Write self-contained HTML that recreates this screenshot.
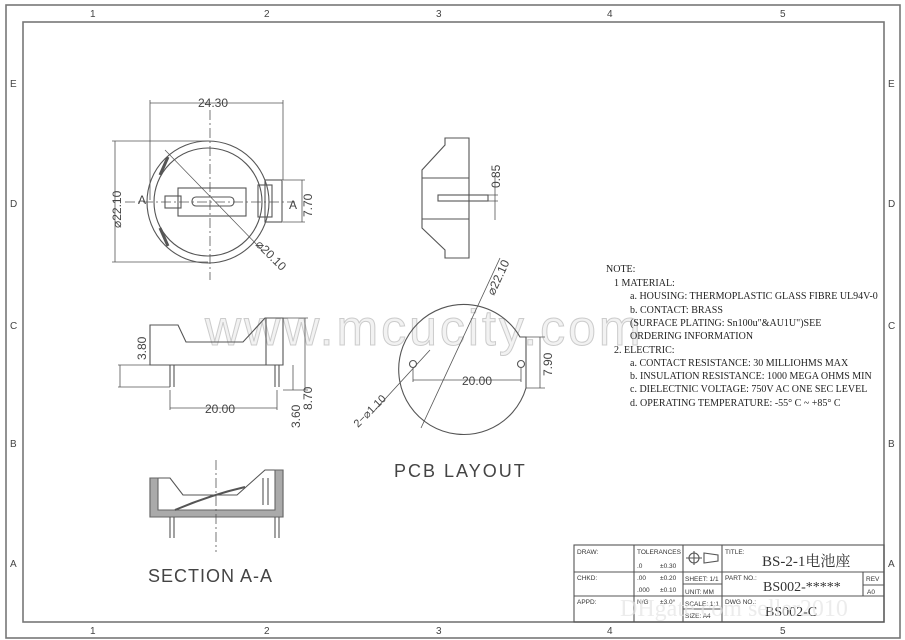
<!DOCTYPE html>
<html><head><meta charset="utf-8"><style>
html,body{margin:0;padding:0;background:#fff;width:905px;height:640px;overflow:hidden}
svg{display:block}
text{font-family:"Liberation Sans","Noto Sans CJK SC",sans-serif}
.s{font-family:"Liberation Serif","Noto Serif CJK SC",serif}
</style></head><body>
<svg width="905" height="640" viewBox="0 0 905 640" xmlns="http://www.w3.org/2000/svg">
<g fill="none" stroke="#777" stroke-width="1.6">
<rect x="6" y="5" width="894" height="633"/>
<rect x="23" y="22" width="861" height="600"/>
</g>
<g font-size="10" fill="#444">
<text x="90" y="17">1</text><text x="264" y="17">2</text><text x="436" y="17">3</text><text x="607" y="17">4</text><text x="780" y="17">5</text>
<text x="90" y="634">1</text><text x="264" y="634">2</text><text x="436" y="634">3</text><text x="607" y="634">4</text><text x="780" y="634">5</text>
<text x="10" y="87">E</text><text x="10" y="207">D</text><text x="10" y="329">C</text><text x="10" y="447">B</text><text x="10" y="567">A</text>
<text x="888" y="87">E</text><text x="888" y="207">D</text><text x="888" y="329">C</text><text x="888" y="447">B</text><text x="888" y="567">A</text>
</g>
<text x="205" y="345" font-size="50" style="fill:#f2f2f2;stroke:#cccccc;stroke-width:1" letter-spacing="3">www.mcucity.com</text>
<g fill="none" stroke="#555" stroke-width="1.1">
<circle cx="208" cy="202" r="61"/>
<circle cx="208" cy="202" r="54"/>
<rect x="265" y="180" width="17" height="42"/>
<rect x="258" y="185" width="14" height="32"/>
<rect x="178" y="188" width="68" height="28"/>
<rect x="165" y="196" width="16" height="12"/>
<rect x="192" y="197" width="42" height="9" rx="4"/>
<path d="M160 175 l8 -18 M160 228 l8 18" stroke-width="3"/>
<line x1="210" y1="110" x2="210" y2="280" stroke-dasharray="10 3 2 3" stroke-width="0.8"/>
<line x1="125" y1="202" x2="295" y2="202" stroke-dasharray="10 3 2 3" stroke-width="0.8"/>
<line x1="165" y1="150" x2="262" y2="250" stroke-width="0.7"/>
<path d="M150 103 H283 M150 100 V200 M283 100 V180 M115 141 V262 M112 141 H208 M112 262 H208 M302 180 V222 M283 180 H305 M283 222 H305" stroke-width="0.8"/>
<path d="M445 138 H469 V258 H445 V250 L422 228 V170 L445 145 Z"/>
<path d="M422 178 H469 M422 219 H469"/>
<rect x="438" y="195" width="50" height="6"/>
<path d="M495 175 V220 M488 195 H498 M488 201 H498" stroke-width="0.8"/>
<path d="M150 325 H178 L186 342 H243 L265 318 H283 V365 H150 Z"/>
<path d="M266 318 V365"/>
<path d="M170 365 V387 M174 365 V387 M275 365 V387 M279 365 V387"/>
<path d="M120 365 V387 M118 365 H150 M118 387 H170 M170 390 V410 M277 390 V410 M170 408 H277 M293 365 V390 M305 318 V390 M283 318 H308 M283 390 H308" stroke-width="0.8"/>
<path d="M520 337 A65 65 0 1 0 526 388 V337 Z"/>
<circle cx="413" cy="364" r="3.5"/><circle cx="521" cy="364" r="3.5"/>
<path d="M413 380 H521 M413 368 V382 M521 368 V382 M526 337 H545 M526 388 H545 M540 337 V388" stroke-width="0.8"/>
<line x1="421" y1="428" x2="500" y2="258" stroke-width="0.8"/>
<line x1="375" y1="410" x2="430" y2="350" stroke-width="0.8"/>
<path d="M150 478 H170 L183 495 H237 L265 470 H283 V517 H150 Z"/>
<path d="M150 478 H158 V510 H275 V470 H283 V517 H150 Z" fill="#aaa" stroke="#666"/>
<path d="M175 510 Q210 495 245 487" stroke-width="2"/>
<path d="M263 478 V505 M268 478 V505"/>
<path d="M170 517 V538 M174 517 V538 M275 517 V538 M279 517 V538"/>
<line x1="216" y1="460" x2="216" y2="552" stroke-dasharray="10 3 2 3" stroke-width="0.8"/>
<rect x="574" y="545" width="310" height="77"/>
<path d="M574 572 H722 M574 596 H884 M722 572 H884 M634 545 V622 M683 545 V622 M722 545 V622 M863 572 V596 M863 585 H884 M683 572 H722 M683 584 H722 M683 609 H722"/>
<circle cx="694" cy="558" r="5"/><path d="M686 558 H702 M694 551 V565 M704 553 L718 555 V561 L704 563 Z"/>
</g>
<g font-size="12" fill="#444">
<text x="198" y="107">24.30</text>
<text x="138" y="204">A</text><text x="289" y="209">A</text>
<text transform="translate(121,228) rotate(-90)">⌀22.10</text>
<text transform="translate(312,217) rotate(-90)">7.70</text>
<text transform="translate(255,245) rotate(45)">⌀20.10</text>
<text transform="translate(500,188) rotate(-90)">0.85</text>
<text transform="translate(146,360) rotate(-90)">3.80</text>
<text x="205" y="413">20.00</text>
<text transform="translate(300,428) rotate(-90)">3.60</text>
<text transform="translate(312,410) rotate(-90)">8.70</text>
<text x="462" y="385">20.00</text>
<text transform="translate(552,376) rotate(-90)">7.90</text>
<text transform="translate(494,296) rotate(-65)">⌀22.10</text>
<text transform="translate(358,428) rotate(-45)" font-size="11">2−⌀1.10</text>
<text x="394" y="477" font-size="18" letter-spacing="2">PCB LAYOUT</text>
<text x="148" y="582" font-size="18" letter-spacing="1">SECTION A-A</text>
</g>
<g class="s" font-size="10" fill="#222">
<text class="s" x="606" y="272">NOTE:</text>
<text class="s" x="614" y="286">1 MATERIAL:</text>
<text class="s" x="630" y="299">a. HOUSING: THERMOPLASTIC GLASS FIBRE UL94V-0</text>
<text class="s" x="630" y="313">b. CONTACT: BRASS</text>
<text class="s" x="630" y="326">(SURFACE PLATING: Sn100u"&amp;AU1U")SEE</text>
<text class="s" x="630" y="339">ORDERING INFORMATION</text>
<text class="s" x="614" y="353">2. ELECTRIC:</text>
<text class="s" x="630" y="366">a. CONTACT RESISTANCE:  30 MILLIOHMS MAX</text>
<text class="s" x="630" y="379">b. INSULATION RESISTANCE:  1000 MEGA OHMS MIN</text>
<text class="s" x="630" y="392">c. DIELECTNIC VOLTAGE:  750V AC ONE SEC LEVEL</text>
<text class="s" x="630" y="406">d. OPERATING TEMPERATURE:  -55° C ~ +85° C</text>
</g>
<g font-size="6.5" fill="#333">
<text x="577" y="554">DRAW:</text><text x="577" y="580">CHKD:</text><text x="577" y="604">APPD:</text>
<text x="637" y="554">TOLERANCES</text>
<text x="637" y="568">.0</text><text x="660" y="568">±0.30</text>
<text x="637" y="580">.00</text><text x="660" y="580">±0.20</text>
<text x="637" y="592">.000</text><text x="660" y="592">±0.10</text>
<text x="637" y="604">N/G</text><text x="660" y="604">±3.0°</text>
<text x="685" y="581">SHEET: 1/1</text><text x="685" y="594">UNIT:  MM</text>
<text x="685" y="606">SCALE: 1:1</text><text x="685" y="618">SIZE:   A4</text>
<text x="725" y="554">TITLE:</text><text x="725" y="580">PART NO.:</text><text x="725" y="604">DWG NO.:</text>
<text x="866" y="581">REV</text><text x="867" y="594">A0</text>
</g>
<g class="s" fill="#333">
<text class="s" x="762" y="566" font-size="15">BS-2-1电池座</text>
<text class="s" x="763" y="591" font-size="14">BS002-*****</text>
<text class="s" x="765" y="616" font-size="14">BS002-C</text>
</g>
<text class="s" x="620" y="616" font-size="24" style="fill:#e4e4e4;opacity:0.7">DHgate.com  seller2010</text>
</svg>
</body></html>
